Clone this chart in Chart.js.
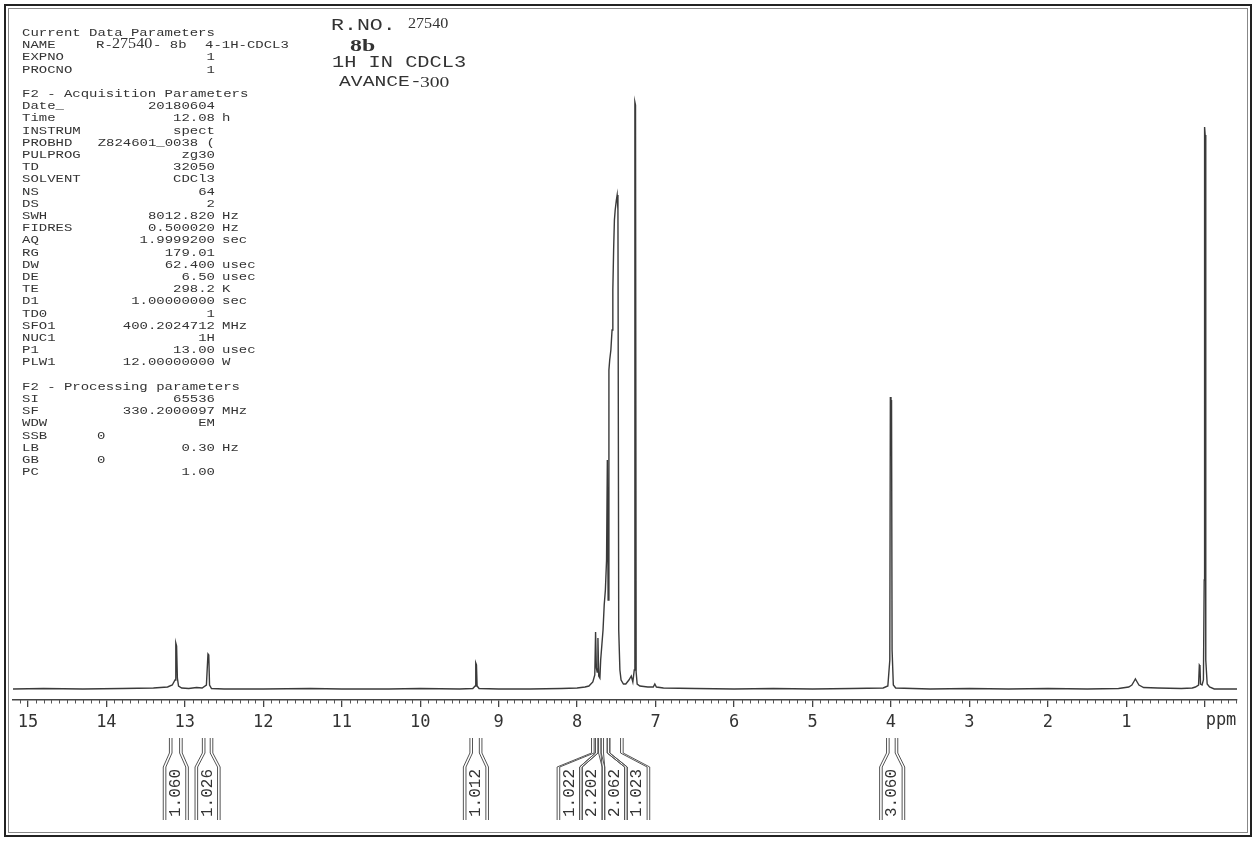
<!DOCTYPE html>
<html><head><meta charset="utf-8">
<script src="https://cdn.jsdelivr.net/npm/chart.js@4.4.1/dist/chart.umd.min.js"></script>
<style>html,body{margin:0;padding:0;background:#fff;}canvas{display:block;}</style>
</head><body>
<canvas id="c" width="1255" height="841"></canvas>
<script>
// ---- spectrum (chemical shift in ppm, intensity in arbitrary units) ----
const shifts = [15.19,14.8,14.3,13.8,13.4,13.22,13.16,13.125,13.115,13.105,13.095,13.08,13.04,12.95,12.85,12.78,12.725,12.705,12.695,12.685,12.66,12.5,12.0,11.4,11.0,10.4,10.0,9.5,9.33,9.30,9.292,9.283,9.275,9.25,9.0,8.6,8.2,8.0,7.9,7.85,7.80,7.775,7.765,7.755,7.745,7.735,7.725,7.71,7.70,7.685,7.67,7.655,7.64,7.625,7.615,7.605,7.595,7.585,7.57,7.555,7.545,7.535,7.525,7.515,7.50,7.49,7.48,7.47,7.455,7.44,7.41,7.38,7.34,7.31,7.29,7.272,7.264,7.256,7.248,7.235,7.2,7.1,7.03,7.01,6.99,6.9,6.5,6.0,5.5,5.0,4.5,4.1,4.04,4.015,4.008,4.0,3.993,3.986,3.97,3.94,3.5,3.0,2.5,2.0,1.5,1.1,0.97,0.93,0.90,0.885,0.87,0.84,0.78,0.6,0.3,0.16,0.12,0.08,0.07,0.062,0.055,0.035,0.018,0.008,0.003,-0.004,-0.012,-0.03,-0.06,-0.12,-0.25,-0.41];
const intensities = [1,1.5,1,1.5,2,3,5,10,47,44,12,4,2,1.5,2.5,2,5,36,35,5,1.5,1,1,1.5,1,1,1.5,1,1.5,4,27,25,4,1.5,1,1,1.5,2,3,4,8,15,58,22,18,52,14,12,30,45,60,85,100,130,230,90,320,330,340,360,400,440,470,480,490,495,480,60,20,10,6,6,10,14,8,20,588,585,18,6,4,3,3,6,3,2,1.5,1,1.5,1,1.5,2,4,30,293,285,290,40,5,2,1,1.5,1,1.5,1,1.5,3,5,9,11,9,5,2.5,2,1.5,2,3,5,25,24,6,5,10,110,563,555,30,6,3,1,1,1];

// ---- axis ----
const axisTicks = [15,14,13,12,11,10,9,8,7,6,5,4,3,2,1,0];
const axisTickLabels = ['15','14','13','12','11','10','9','8','7','6','5','4','3','2','1',''];
const axisUnit = 'ppm';

// ---- integrals ----
const integralStart = [13.18,12.76,9.35,7.80,7.75,7.68,7.60,4.04];
const integralEnd   = [13.05,12.66,9.23,7.75,7.71,7.60,7.43,3.93];
const integralLabels = ['1.060','1.026','1.012','1.022','2.202','2.062','1.023','3.060'];

// ---- parameter listing ----
const paramNames = ['Current Data Parameters','NAME','EXPNO','PROCNO','','F2 - Acquisition Parameters','Date_','Time','INSTRUM','PROBHD','PULPROG','TD','SOLVENT','NS','DS','SWH','FIDRES','AQ','RG','DW','DE','TE','D1','TD0','SFO1','NUC1','P1','PLW1','','F2 - Processing parameters','SI','SF','WDW','SSB','LB','GB','PC'];
const paramValues = ['','','1','1','','','20180604','12.08','spect','Z824601_0038 (','zg30','32050','CDCl3','64','2','8012.820','0.500020','1.9999200','179.01','62.400','6.50','298.2','1.00000000','1','400.2024712','1H','13.00','12.00000000','','','65536','330.2000097','EM','','0.30','','1.00'];
const paramUnits = ['','','','','','','','h','','','','','','','','Hz','Hz','sec','','usec','usec','K','sec','','MHz','','usec','W','','','','MHz','','','Hz','',''];
const paramInline = ['','','','','','','','','','','','','','','','','','','','','','','','','','','','','','','','','','0','','0',''];

const TXT = '#333';
function sText(c, str, x, y, font, align, sx) {
  c.save();
  c.translate(x, y);
  c.scale(sx, 1);
  c.font = font;
  c.textAlign = align;
  c.textBaseline = 'middle';
  c.fillStyle = TXT;
  c.fillText(str, 0, 0);
  c.restore();
}

const decor = {
  id: 'decor',
  beforeDraw(chart) {
    const c = chart.ctx;
    c.save(); c.fillStyle = '#fff'; c.fillRect(0, 0, chart.width, chart.height); c.restore();
  },
  afterDraw(chart) {
    const c = chart.ctx, xs = chart.scales.x, area = chart.chartArea;
    // minor ticks
    c.save();
    c.strokeStyle = '#555'; c.lineWidth = 1;
    for (let k = Math.ceil(xs.min * 10); k <= Math.floor(xs.max * 10); k++) {
      if (k % 10 === 0) continue;
      const px = Math.round(xs.getPixelForValue(k / 10)) + 0.5;
      c.beginPath(); c.moveTo(px, area.bottom); c.lineTo(px, area.bottom + 3.5); c.stroke();
    }
    c.restore();
    // unit label
    c.save();
    c.font = '17px "DejaVu Sans Mono"'; c.fillStyle = TXT; c.textAlign = 'center'; c.textBaseline = 'middle';
    c.fillText(axisUnit, area.right - 16, 721);
    c.restore();

    // integrals
    const W = 22.5, yTop = 738, ySl = 753, yBox = 767, yBot = 820;
    const items = integralStart.map((a, i) => {
      const p1 = xs.getPixelForValue(a), p2 = xs.getPixelForValue(integralEnd[i]);
      return { xa: Math.min(p1, p2), xb: Math.max(p1, p2), c: (p1 + p2) / 2, label: integralLabels[i] };
    });
    const groups = []; let cur = [items[0]];
    for (let i = 1; i < items.length; i++) {
      if (items[i].c - cur[cur.length - 1].c < W) cur.push(items[i]); else { groups.push(cur); cur = [items[i]]; }
    }
    groups.push(cur);
    groups.forEach(g => {
      const m = g.reduce((s, it) => s + it.c, 0) / g.length;
      const start = m - g.length * W / 2;
      g.forEach((it, j) => { it.bl = start + j * W; it.br = it.bl + W; });
    });
    c.save();
    c.strokeStyle = '#555'; c.lineWidth = 1;
    items.forEach(it => {
      [-1.3, 1.3].forEach(o => {
        c.beginPath();
        c.moveTo(it.xa + o, yTop); c.lineTo(it.xa + o, ySl); c.lineTo(it.bl + o, yBox); c.lineTo(it.bl + o, yBot);
        c.moveTo(it.xb + o, yTop); c.lineTo(it.xb + o, ySl); c.lineTo(it.br + o, yBox); c.lineTo(it.br + o, yBot);
        c.stroke();
      });
      c.save();
      c.translate((it.bl + it.br) / 2, 793);
      c.rotate(-Math.PI / 2);
      c.font = '16px "Liberation Mono"'; c.fillStyle = TXT; c.textAlign = 'center'; c.textBaseline = 'middle';
      c.fillText(it.label, 0, 0);
      c.restore();
    });
    c.restore();

    // parameter block
    const mono = '11px "Liberation Mono"', SX = 1.27;
    paramNames.forEach((n, k) => {
      const y = 33 + 12.2 * k;
      if (n) sText(c, n, 22, y, mono, 'left', SX);
      if (paramValues[k]) sText(c, paramValues[k], 215, y, mono, 'right', SX);
      if (paramUnits[k]) sText(c, paramUnits[k], 222, y, mono, 'left', SX);
      if (paramInline[k]) sText(c, paramInline[k], 97, y, mono, 'left', SX);
    });
    // NAME value
    const yN = 33 + 12.2;
    sText(c, 'R-', 96, yN, mono, 'left', SX);
    sText(c, '27540', 112, yN - 1, '14px "Liberation Serif"', 'left', 1.15);
    sText(c, '- 8b', 153, yN, mono, 'left', SX);
    sText(c, '4-1H-CDCL3', 205, yN, mono, 'left', SX);

    // title block
    sText(c, 'R.NO.', 331, 25, '17px "Liberation Mono"', 'left', 1.27);
    sText(c, '27540', 408, 24, '14px "Liberation Serif"', 'left', 1.15);
    sText(c, '8b', 350, 47, 'bold 17px "Liberation Serif"', 'left', 1.4);
    sText(c, '1H IN CDCL3', 332, 63, '16px "Liberation Mono"', 'left', 1.27);
    sText(c, 'AVANCE-', 339, 82, '15.5px "Liberation Mono"', 'left', 1.27);
    sText(c, '300', 420, 83, '14px "Liberation Serif"', 'left', 1.4);

    // frame
    c.save();
    c.strokeStyle = '#222'; c.lineWidth = 2;
    c.strokeRect(5, 5, 1246, 831);
    c.strokeStyle = '#888'; c.lineWidth = 1;
    c.strokeRect(8.5, 8.5, 1239, 824);
    c.restore();
  }
};

new Chart(document.getElementById('c'), {
  type: 'line',
  data: {
    datasets: [{
      data: shifts.map((s, i) => ({ x: s, y: intensities[i] })),
      borderColor: '#3a3a3a', borderWidth: 1.4, pointRadius: 0, tension: 0, fill: false
    }]
  },
  options: {
    responsive: false, animation: false, devicePixelRatio: 1,
    events: [],
    layout: { padding: { left: 13, right: 18, top: 90, bottom: 101 } },
    plugins: { legend: { display: false }, tooltip: { enabled: false } },
    scales: {
      x: {
        type: 'linear', reverse: true, min: -0.41, max: 15.19,
        afterFit: s => { s.height = 40; },
        afterBuildTicks: s => { s.ticks = axisTicks.map(v => ({ value: v })); },
        border: { display: true, color: '#444', width: 1.5 },
        grid: { display: true, drawOnChartArea: false, drawTicks: true, tickLength: 7, color: '#444', lineWidth: 1.3 },
        ticks: { font: { family: 'DejaVu Sans Mono', size: 17 }, color: TXT, padding: 5, maxRotation: 0, autoSkip: false,
                 callback: (v, i) => axisTickLabels[i] }
      },
      y: { display: false, min: -10, max: 600 }
    }
  },
  plugins: [decor]
});
</script>
</body></html>
